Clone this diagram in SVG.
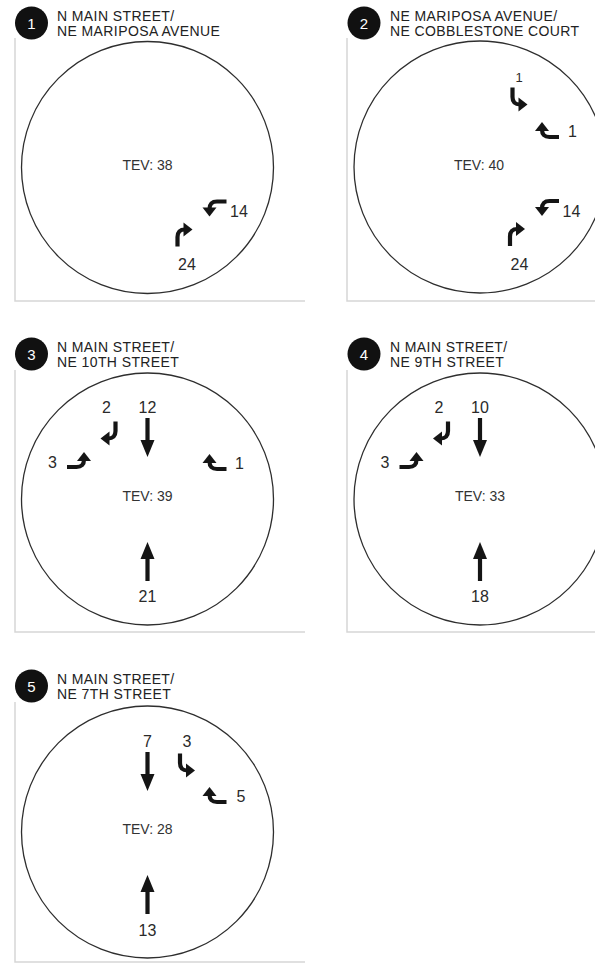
<svg xmlns="http://www.w3.org/2000/svg" xmlns:xlink="http://www.w3.org/1999/xlink" width="595" height="963" viewBox="0 0 595 963">
<style>
.frame{stroke:#d6d6d6;stroke-width:1.5;fill:none}
.ring{fill:none;stroke:#2e2e2e;stroke-width:1.3}
.badge{fill:#111}
.bnum{font-family:"Liberation Sans",Arial,sans-serif;font-size:15px;fill:#fff;text-anchor:middle}
.hdr{font-family:"Liberation Sans",Arial,sans-serif;font-size:14px;letter-spacing:0.4px;fill:#222}
.tev{font-family:"Liberation Sans",Arial,sans-serif;font-size:14px;fill:#333;text-anchor:middle}
.num{font-family:"Liberation Sans",Arial,sans-serif;font-size:16px;fill:#2a2a2a;text-anchor:middle}
.sm{font-size:13px}
.ink{fill:#151515}
.stem{fill:none;stroke:#151515;stroke-width:4.2}
</style>
<defs>
<g id="turn"><path class="stem" d="M-6,11.5 L-6,2 Q-6,-5.5 1.5,-5.5"/><polygon class="ink" points="0,-12.5 9,-5.5 0,1.5"/></g>
<g id="thru"><path class="stem" d="M0,-19.5 L0,6"/><polygon class="ink" points="-7,2.5 7,2.5 0,19.5"/></g>
</defs>

<g id="panel1">
<path class="frame" d="M15,38 V301 H305"/>
<circle class="ring" cx="147.5" cy="167.5" r="126"/>
<circle class="badge" cx="31.5" cy="23" r="16.5"/>
<text class="bnum" x="31.5" y="28.5">1</text>
<text class="hdr" x="57" y="20.5">N MAIN STREET/</text>
<text class="hdr" x="57" y="36">NE MARIPOSA AVENUE</text>
<text class="tev" x="147.5" y="170">TEV: 38</text>
<use xlink:href="#turn" transform="translate(215,207.5) rotate(-90) scale(-1,1)"/>
<text class="num" x="239" y="217">14</text>
<use xlink:href="#turn" transform="translate(183.5,235)"/>
<text class="num" x="187" y="270">24</text>
</g>

<g id="panel2">
<path class="frame" d="M347,38 V301 H595"/>
<circle class="ring" cx="480" cy="167" r="126"/>
<circle class="badge" cx="364" cy="23" r="16.5"/>
<text class="bnum" x="364" y="28.5">2</text>
<text class="hdr" x="390" y="20.5">NE MARIPOSA AVENUE/</text>
<text class="hdr" x="390" y="36">NE COBBLESTONE COURT</text>
<text class="tev" x="479" y="169.5">TEV: 40</text>
<text class="num sm" x="519" y="82">1</text>
<use xlink:href="#turn" transform="translate(518.5,99) scale(1,-1)"/>
<use xlink:href="#turn" transform="translate(547.5,131) rotate(-90)"/>
<text class="num" x="572.5" y="136.5">1</text>
<use xlink:href="#turn" transform="translate(547.5,207) rotate(-90) scale(-1,1)"/>
<text class="num" x="571.5" y="217">14</text>
<use xlink:href="#turn" transform="translate(516,234.5)"/>
<text class="num" x="519.5" y="270">24</text>
</g>

<g id="panel3">
<path class="frame" d="M15,370 V632 H305"/>
<circle class="ring" cx="147.5" cy="499" r="126"/>
<circle class="badge" cx="31.5" cy="354" r="16.5"/>
<text class="bnum" x="31.5" y="359.5">3</text>
<text class="hdr" x="57" y="351.5">N MAIN STREET/</text>
<text class="hdr" x="57" y="367">NE 10TH STREET</text>
<text class="tev" x="147.5" y="501">TEV: 39</text>
<text class="num" x="147.5" y="413">12</text>
<use xlink:href="#thru" transform="translate(147.5,437.5)"/>
<text class="num" x="106.5" y="413">2</text>
<use xlink:href="#turn" transform="translate(109.5,433) rotate(180)"/>
<text class="num" x="52.5" y="468">3</text>
<use xlink:href="#turn" transform="translate(78.5,461) rotate(90) scale(-1,1)"/>
<use xlink:href="#turn" transform="translate(215,463) rotate(-90)"/>
<text class="num" x="239.5" y="468.5">1</text>
<use xlink:href="#thru" transform="translate(147.5,561.5) rotate(180)"/>
<text class="num" x="147.5" y="602">21</text>
</g>

<g id="panel4">
<path class="frame" d="M347,370 V632 H595"/>
<circle class="ring" cx="480" cy="499" r="126"/>
<circle class="badge" cx="364" cy="354" r="16.5"/>
<text class="bnum" x="364" y="359.5">4</text>
<text class="hdr" x="390" y="351.5">N MAIN STREET/</text>
<text class="hdr" x="390" y="367">NE 9TH STREET</text>
<text class="tev" x="480" y="501">TEV: 33</text>
<text class="num" x="480" y="413">10</text>
<use xlink:href="#thru" transform="translate(480,437.5)"/>
<text class="num" x="439" y="413">2</text>
<use xlink:href="#turn" transform="translate(442,433) rotate(180)"/>
<text class="num" x="385" y="468">3</text>
<use xlink:href="#turn" transform="translate(411,461) rotate(90) scale(-1,1)"/>
<use xlink:href="#thru" transform="translate(480,561.5) rotate(180)"/>
<text class="num" x="480" y="602">18</text>
</g>

<g id="panel5">
<path class="frame" d="M15,702 V962 H305"/>
<circle class="ring" cx="147.5" cy="832" r="126"/>
<circle class="badge" cx="31.5" cy="686" r="16.5"/>
<text class="bnum" x="31.5" y="691.5">5</text>
<text class="hdr" x="57" y="683.5">N MAIN STREET/</text>
<text class="hdr" x="57" y="699">NE 7TH STREET</text>
<text class="tev" x="147.5" y="834">TEV: 28</text>
<text class="num" x="147.5" y="747">7</text>
<use xlink:href="#thru" transform="translate(147.5,771.5)"/>
<text class="num" x="187" y="747">3</text>
<use xlink:href="#turn" transform="translate(186,765) scale(1,-1)"/>
<use xlink:href="#turn" transform="translate(215,796) rotate(-90)"/>
<text class="num" x="241" y="801.5">5</text>
<use xlink:href="#thru" transform="translate(147.5,894.5) rotate(180)"/>
<text class="num" x="147.5" y="936">13</text>
</g>
</svg>
